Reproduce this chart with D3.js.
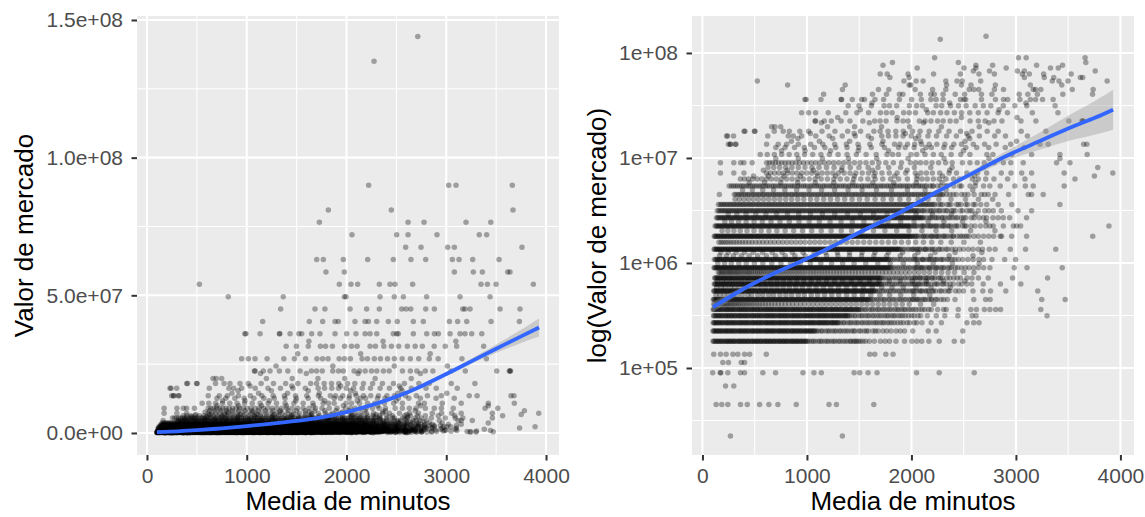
<!DOCTYPE html>
<html>
<head>
<meta charset="utf-8">
<script src="https://cdn.jsdelivr.net/npm/d3@7"></script>
<style>
  body { margin: 0; background: #ffffff; }
  svg { display: block; }
  text { font-family: "Liberation Sans", Arial, Helvetica, sans-serif; }
</style>
</head>
<body>
<svg id="chart" width="1145" height="517"></svg>
<script>
// Valor de mercado (EUR) de cada nivel; minutosNivel[i] guarda la media de minutos
// de los jugadores tasados en valoresNivel[i]
const valoresNivel = [
  22500, 45000, 67500, 90000, 112500, 135000, 180000, 225000, 270000, 315000,
  360000, 405000, 450000, 495000, 540000, 585000, 630000, 675000, 720000, 810000,
  900000, 990000, 1080000, 1170000, 1260000, 1350000, 1575000, 1800000, 2025000, 2250000,
  2475000, 2700000, 2925000, 3150000, 3600000, 4050000, 4500000, 4950000, 5400000, 5850000,
  6300000, 6750000, 7200000, 7650000, 8100000, 9000000, 9900000, 10800000, 11700000, 12600000,
  13500000, 14400000, 15300000, 16200000, 17100000, 18000000, 19800000, 21600000, 22500000, 24300000,
  27000000, 28800000, 31500000, 33300000, 36000000, 40500000, 45000000, 49500000, 54000000, 58500000,
  63000000, 67500000, 72000000, 76500000, 81000000, 90000000, 135000000, 144000000
];

const minutosNivel = [
  [268, 1339],
  [131, 185, 243, 364, 429, 547, 636, 722, 898, 1211, 1282, 1640],
  [221, 300],
  [98, 170, 176, 243, 364, 403, 578, 700, 962, 1067, 1138, 1451, 1505, 1585, 1671, 2049, 2266, 2601],
  [195, 249, 371, 403],
  [108, 173, 227, 291, 339, 403, 452, 611, 1601, 1649, 1755, 1824],
  [102, 109, 121, 130, 144, 150, 161, 174, 182, 192, 207, 216, 228, 235, 249, 256, 268, 276, 289, 300, 306, 318, 333, 341, 354, 361, 372, 383, 396, 401, 413, 428, 434, 443, 459, 467, 480, 488, 499, 510, 521, 528, 540, 553, 560, 571, 585, 593, 606, 614, 624, 635, 648, 653, 666, 679, 686, 697, 710, 719, 733, 740, 750, 762, 774, 781, 792, 805, 811, 823, 838, 845, 858, 866, 876, 888, 899, 907, 916, 931, 939, 949, 963, 971, 985, 992, 1004, 1021, 1045, 1062, 1081, 1108, 1127, 1143, 1170, 1191, 1208, 1234, 1255, 1273, 1301, 1318, 1344, 1366, 1387, 1414, 1422, 1446, 1460, 1475, 1493, 1511, 1536, 1562, 1598, 1645, 1703, 1748, 1791, 1852, 1934, 2004, 2052, 2099, 2167, 2266, 2410, 2490],
  [101, 108, 117, 129, 136, 149, 155, 167, 178, 186, 197, 211, 219, 231, 238, 250, 259, 273, 279, 290, 303, 311, 321, 336, 345, 357, 364, 376, 385, 399, 405, 416, 429, 437, 447, 462, 471, 483, 490, 502, 511, 525, 531, 542, 555, 563, 573, 588, 597, 609, 616, 628, 637, 651, 657, 668, 681, 689, 699, 714, 723, 735, 742, 754, 763, 777, 783, 794, 807, 815, 825, 840, 849, 861, 868, 880, 889, 903, 909, 920, 933, 941, 951, 966, 975, 987, 994, 1006, 1015, 1029, 1035, 1046, 1059, 1067, 1077, 1092, 1110, 1135, 1149, 1178, 1199, 1216, 1242, 1264, 1281, 1309, 1327, 1353, 1375, 1396, 1424, 1446, 1461, 1497, 1515, 1547, 1569, 1588, 1632, 1655, 1681, 1727, 1764, 1804, 1853, 1893, 1934, 2012, 2161, 2237, 2492],
  [103, 111, 119, 130, 138, 152, 158, 169, 182, 190, 200, 215, 224, 236, 243, 255, 264, 278, 284, 295, 308, 316, 326, 341, 350, 362, 369, 381, 390, 404, 410, 421, 434, 442, 452, 467, 476, 488, 495, 507, 516, 530, 536, 547, 560, 568, 578, 593, 602, 614, 621, 633, 642, 656, 662, 673, 686, 694, 704, 719, 728, 740, 747, 759, 768, 782, 788, 799, 812, 820, 830, 845, 854, 866, 873, 885, 894, 908, 914, 925, 938, 946, 956, 971, 980, 992, 999, 1011, 1020, 1034, 1040, 1051, 1064, 1072, 1082, 1097, 1106, 1118, 1125, 1137, 1146, 1160, 1166, 1177, 1190, 1198, 1208, 1223, 1232, 1244, 1251, 1263, 1272, 1286, 1292, 1303, 1321, 1346, 1360, 1389, 1410, 1427, 1453, 1475, 1492, 1520, 1538, 1564, 1586, 1607, 1635, 1656, 1674, 1700, 1722, 1739, 1768, 1790, 1812, 1837, 1867, 1896, 1921, 1958, 1984, 2026, 2052, 2101, 2189, 2287, 2531, 2596, 2647],
  [106, 113, 125, 134, 148, 154, 165, 178, 186, 196, 211, 220, 232, 239, 251, 260, 274, 280, 291, 304, 312, 322, 337, 346, 358, 365, 377, 386, 400, 406, 417, 430, 438, 448, 463, 472, 484, 491, 503, 512, 526, 532, 543, 556, 564, 574, 589, 598, 610, 617, 629, 638, 652, 658, 669, 682, 690, 700, 715, 724, 736, 743, 755, 764, 778, 784, 795, 808, 816, 826, 841, 850, 862, 869, 881, 890, 904, 910, 921, 934, 942, 952, 967, 976, 988, 995, 1007, 1016, 1030, 1036, 1047, 1060, 1068, 1078, 1093, 1102, 1114, 1121, 1133, 1142, 1156, 1162, 1173, 1186, 1194, 1204, 1219, 1228, 1240, 1247, 1259, 1268, 1282, 1288, 1299, 1312, 1320, 1330, 1345, 1354, 1366, 1373, 1385, 1394, 1408, 1426, 1451, 1465, 1494, 1515, 1532, 1558, 1580, 1597, 1625, 1643, 1669, 1691, 1712, 1740, 1761, 1779, 1805, 1827, 1844, 1873, 1895, 1917, 1942, 1972, 2001, 2026, 2063, 2089, 2152, 2238, 2319, 2444, 2581, 2619, 3298],
  [103, 110, 122, 131, 145, 151, 162, 175, 183, 193, 208, 217, 229, 236, 248, 257, 271, 277, 288, 301, 309, 319, 334, 343, 355, 362, 374, 383, 397, 403, 414, 427, 435, 445, 460, 469, 481, 488, 500, 509, 523, 529, 540, 553, 561, 571, 586, 595, 607, 614, 626, 635, 649, 655, 666, 679, 687, 697, 712, 721, 733, 740, 752, 761, 775, 781, 792, 805, 813, 823, 838, 847, 859, 866, 878, 887, 901, 907, 918, 931, 939, 949, 964, 973, 985, 992, 1004, 1013, 1027, 1033, 1044, 1057, 1065, 1075, 1090, 1099, 1111, 1118, 1130, 1139, 1153, 1159, 1170, 1183, 1191, 1201, 1216, 1225, 1237, 1244, 1256, 1265, 1279, 1285, 1296, 1309, 1317, 1327, 1342, 1351, 1363, 1370, 1382, 1391, 1405, 1411, 1422, 1435, 1443, 1453, 1468, 1477, 1489, 1496, 1508, 1526, 1551, 1565, 1594, 1615, 1632, 1658, 1680, 1697, 1725, 1743, 1769, 1791, 1812, 1840, 1861, 1879, 1905, 1927, 1944, 1973, 1995, 2017, 2042, 2072, 2101, 2126, 2163, 2189, 2251, 2308, 2333, 2448, 2569, 2622, 2698, 2751, 2806, 2853, 3238],
  [108, 121, 137, 149, 166, 183, 197, 214, 232, 247, 266, 284, 303, 321, 342, 361, 383, 404, 427, 449, 473, 497, 522, 548, 575, 603, 632, 662, 693, 725, 758, 792, 827, 863, 900, 938, 977, 1017, 1058, 1100, 1143, 1187, 1232, 1278, 1325, 1373, 1422, 1472, 1523, 1575, 1628, 1682, 1737, 1793, 1851, 1912, 1979, 2087, 2213],
  [104, 112, 119, 131, 138, 147, 160, 166, 178, 185, 197, 204, 213, 226, 232, 244, 253, 261, 274, 280, 291, 303, 310, 322, 329, 341, 350, 357, 370, 378, 389, 397, 408, 419, 425, 438, 446, 455, 468, 474, 487, 496, 504, 515, 523, 536, 542, 553, 565, 573, 584, 590, 603, 612, 620, 633, 641, 650, 662, 669, 681, 689, 700, 711, 717, 730, 738, 747, 760, 766, 779, 788, 796, 807, 815, 828, 834, 845, 857, 865, 876, 882, 895, 904, 912, 925, 933, 942, 954, 961, 973, 981, 992, 1003, 1009, 1022, 1030, 1039, 1052, 1058, 1071, 1080, 1088, 1099, 1107, 1120, 1126, 1137, 1149, 1157, 1168, 1174, 1187, 1196, 1204, 1217, 1225, 1234, 1246, 1253, 1265, 1273, 1284, 1295, 1301, 1314, 1322, 1331, 1344, 1350, 1363, 1372, 1380, 1391, 1399, 1412, 1418, 1429, 1441, 1449, 1460, 1466, 1479, 1488, 1496, 1509, 1517, 1526, 1538, 1545, 1557, 1565, 1576, 1587, 1593, 1606, 1624, 1641, 1667, 1683, 1709, 1731, 1746, 1775, 1791, 1818, 1834, 1862, 1885, 1903, 1929, 1948, 1977, 1996, 2024, 2047, 2073, 2101, 2134, 2162, 2195, 2231, 2283, 2344, 2417, 2597, 2710, 2753, 3247, 3471, 2012, 2058, 2119, 2187, 2246, 2309],
  [128, 167, 209, 248, 296, 335, 381, 433, 472, 529, 577, 634, 681, 742, 798, 853, 917, 975, 1041, 1102, 1168, 1237, 1304, 1379, 1452, 1530, 1611, 1698, 1792, 1897, 2021, 2176],
  [108, 114, 123, 135, 141, 150, 163, 170, 181, 189, 200, 208, 217, 229, 236, 247, 257, 264, 277, 284, 294, 306, 313, 325, 333, 344, 354, 361, 373, 382, 392, 400, 411, 423, 429, 441, 449, 458, 471, 478, 490, 499, 507, 518, 527, 539, 545, 556, 568, 576, 587, 594, 606, 615, 623, 636, 644, 653, 665, 673, 684, 692, 703, 714, 720, 733, 741, 750, 763, 770, 782, 791, 799, 810, 818, 831, 837, 848, 860, 868, 879, 886, 898, 907, 915, 928, 936, 945, 957, 965, 976, 984, 995, 1006, 1012, 1025, 1033, 1042, 1055, 1062, 1074, 1083, 1091, 1102, 1110, 1123, 1129, 1140, 1152, 1160, 1171, 1178, 1190, 1199, 1207, 1220, 1228, 1237, 1249, 1257, 1268, 1276, 1287, 1298, 1304, 1317, 1325, 1334, 1347, 1354, 1366, 1375, 1383, 1394, 1402, 1415, 1421, 1432, 1444, 1452, 1463, 1470, 1482, 1491, 1499, 1512, 1520, 1529, 1541, 1549, 1560, 1568, 1579, 1590, 1596, 1609, 1617, 1626, 1639, 1646, 1658, 1676, 1694, 1719, 1737, 1762, 1783, 1801, 1828, 1845, 1871, 1889, 1916, 1938, 1957, 1983, 2004, 2031, 2052, 2079, 2104, 2133, 2164, 2196, 2232, 2271, 2321, 2352, 2421, 2498, 2589, 2683, 2757, 2903, 3209, 2015, 2090, 2148, 2210, 2288, 2367, 2455],
  [136, 178, 219, 267, 309, 354, 402, 451, 497, 552, 604, 659, 713, 771, 832, 893, 956, 1021, 1088, 1157, 1228, 1302, 1378, 1457, 1539, 1625, 1716, 1814, 1921, 2043, 2188, 2372],
  [113, 120, 129, 140, 147, 156, 168, 176, 186, 195, 205, 214, 222, 234, 242, 252, 262, 270, 282, 289, 299, 311, 319, 330, 339, 349, 359, 367, 378, 388, 397, 405, 416, 428, 435, 446, 455, 463, 476, 484, 495, 504, 512, 523, 532, 544, 551, 561, 573, 581, 592, 600, 611, 621, 628, 641, 649, 658, 670, 678, 689, 697, 708, 719, 726, 738, 746, 755, 768, 775, 787, 796, 804, 815, 823, 836, 843, 853, 865, 873, 884, 892, 903, 912, 920, 933, 941, 950, 962, 970, 981, 989, 1000, 1011, 1018, 1030, 1038, 1047, 1060, 1067, 1079, 1088, 1096, 1107, 1115, 1128, 1135, 1145, 1157, 1165, 1176, 1184, 1195, 1204, 1212, 1225, 1233, 1242, 1254, 1262, 1273, 1281, 1292, 1303, 1310, 1322, 1330, 1339, 1352, 1359, 1371, 1380, 1388, 1399, 1407, 1420, 1427, 1437, 1449, 1457, 1468, 1476, 1487, 1496, 1504, 1517, 1525, 1534, 1546, 1554, 1565, 1573, 1584, 1595, 1602, 1614, 1622, 1631, 1644, 1651, 1663, 1672, 1680, 1691, 1699, 1712, 1729, 1748, 1773, 1791, 1816, 1837, 1856, 1882, 1899, 1926, 1944, 1970, 1993, 2012, 2038, 2059, 2086, 2108, 2134, 2160, 2189, 2221, 2254, 2291, 2336, 2400, 2482, 2577, 2687, 2852, 3047, 2025, 2071, 2146, 2238, 2307, 2371, 2450, 2530],
  [141, 187, 232, 281, 329, 378, 431, 484, 538, 596, 653, 713, 774, 838, 903, 971, 1041, 1113, 1187, 1264, 1343, 1425, 1510, 1598, 1690, 1788, 1893, 2009, 2142, 2305, 2511],
  [117, 125, 133, 144, 152, 160, 172, 180, 190, 199, 209, 218, 226, 238, 246, 256, 266, 274, 286, 293, 303, 315, 323, 334, 343, 353, 363, 371, 382, 392, 401, 409, 420, 432, 439, 450, 459, 467, 480, 488, 499, 508, 516, 527, 536, 548, 555, 565, 577, 585, 596, 604, 615, 625, 632, 645, 653, 662, 674, 682, 693, 701, 712, 723, 730, 742, 750, 759, 772, 779, 791, 800, 808, 819, 827, 840, 847, 857, 869, 877, 888, 896, 907, 916, 924, 937, 945, 954, 966, 974, 985, 993, 1004, 1015, 1022, 1034, 1042, 1051, 1064, 1071, 1083, 1092, 1100, 1111, 1119, 1132, 1139, 1149, 1161, 1169, 1180, 1188, 1199, 1208, 1216, 1229, 1237, 1246, 1258, 1266, 1277, 1285, 1296, 1307, 1314, 1326, 1334, 1343, 1356, 1363, 1375, 1384, 1392, 1403, 1411, 1424, 1431, 1441, 1453, 1461, 1472, 1480, 1491, 1500, 1508, 1521, 1529, 1538, 1550, 1558, 1569, 1577, 1588, 1599, 1606, 1618, 1626, 1635, 1648, 1655, 1667, 1676, 1684, 1695, 1703, 1716, 1733, 1752, 1777, 1795, 1820, 1841, 1860, 1886, 1903, 1930, 1948, 1974, 1997, 2016, 2042, 2063, 2090, 2112, 2138, 2164, 2193, 2225, 2258, 2295, 2340, 2405, 2438, 2532, 2641, 2735, 2968, 3303, 2033, 2081, 2150, 2205, 2276, 2368, 2470, 2580],
  [152, 166, 181, 197, 213, 229, 247, 262, 276, 294, 311, 327, 343, 361, 379, 397, 416, 434, 449, 469, 488, 507, 527, 546, 566, 586, 607, 629, 651, 672, 694, 716, 739, 762, 786, 809, 833, 857, 882, 907, 931, 957, 983, 1009, 1036, 1062, 1088, 1116, 1143, 1171, 1198, 1227, 1256, 1285, 1313, 1343, 1372, 1403, 1433, 1464, 1494, 1525, 1556, 1589, 1621, 1654, 1687, 1722, 1756, 1792, 1827, 1865, 1902, 1943, 1983, 2027, 2071, 2122, 2174, 2231, 2289, 2351, 2412, 2504, 2598],
  [111, 118, 128, 137, 146, 153, 165, 174, 183, 191, 203, 211, 221, 230, 240, 248, 259, 267, 278, 287, 296, 305, 316, 324, 335, 343, 353, 362, 373, 381, 392, 400, 411, 420, 429, 438, 449, 457, 468, 476, 486, 495, 506, 514, 525, 533, 544, 552, 563, 572, 582, 590, 601, 609, 620, 629, 639, 648, 659, 667, 678, 686, 696, 705, 716, 724, 735, 743, 754, 762, 773, 782, 792, 800, 811, 819, 830, 839, 849, 858, 869, 877, 888, 896, 906, 915, 926, 934, 945, 953, 964, 972, 983, 992, 1002, 1010, 1021, 1029, 1040, 1049, 1059, 1068, 1079, 1087, 1098, 1106, 1116, 1125, 1136, 1144, 1155, 1163, 1174, 1182, 1193, 1202, 1212, 1220, 1231, 1239, 1250, 1259, 1269, 1278, 1289, 1297, 1308, 1316, 1326, 1335, 1346, 1354, 1365, 1373, 1384, 1392, 1403, 1412, 1422, 1430, 1441, 1449, 1460, 1469, 1479, 1488, 1499, 1507, 1518, 1526, 1536, 1545, 1556, 1564, 1575, 1583, 1594, 1602, 1613, 1622, 1632, 1640, 1651, 1659, 1670, 1679, 1689, 1698, 1709, 1717, 1728, 1736, 1746, 1755, 1766, 1774, 1785, 1793, 1804, 1822, 1841, 1866, 1884, 1909, 1930, 1949, 1975, 1992, 2019, 2037, 2063, 2086, 2105, 2131, 2152, 2179, 2201, 2227, 2253, 2282, 2314, 2347, 2384, 2443, 2515, 2596, 2691, 2751, 2984, 3106, 3443, 2046, 2096, 2170, 2240, 2298, 2366, 2420, 2480, 2552, 2640],
  [147, 211, 276, 348, 419, 497, 578, 663, 751, 842, 936, 1033, 1133, 1236, 1342, 1451, 1563, 1678, 1797, 1922, 2057, 2208, 2392, 2648],
  [114, 126, 133, 145, 153, 166, 172, 184, 196, 203, 215, 224, 236, 243, 257, 264, 276, 283, 295, 304, 316, 325, 335, 344, 356, 363, 377, 384, 396, 403, 415, 424, 438, 443, 455, 464, 476, 485, 495, 504, 516, 523, 535, 546, 556, 563, 575, 584, 598, 603, 615, 624, 636, 643, 655, 666, 676, 683, 695, 704, 718, 723, 735, 744, 756, 765, 775, 784, 796, 803, 817, 824, 836, 843, 855, 864, 878, 883, 895, 904, 916, 925, 935, 944, 956, 963, 977, 984, 996, 1003, 1015, 1026, 1036, 1043, 1055, 1064, 1078, 1083, 1095, 1104, 1116, 1125, 1135, 1144, 1156, 1163, 1177, 1184, 1196, 1203, 1215, 1226, 1236, 1243, 1255, 1264, 1278, 1283, 1295, 1304, 1316, 1325, 1335, 1344, 1356, 1363, 1377, 1384, 1396, 1403, 1415, 1426, 1436, 1443, 1455, 1464, 1478, 1483, 1495, 1504, 1516, 1525, 1535, 1544, 1556, 1563, 1577, 1584, 1596, 1603, 1615, 1626, 1636, 1643, 1655, 1664, 1678, 1683, 1695, 1704, 1716, 1725, 1735, 1744, 1756, 1763, 1777, 1784, 1796, 1820, 1838, 1864, 1885, 1903, 1932, 1950, 1979, 1997, 2023, 2048, 2066, 2094, 2115, 2142, 2163, 2190, 2216, 2246, 2276, 2309, 2343, 2389, 2448, 2540, 2646, 2771, 2892, 2997, 2035, 2108, 2176, 2232, 2291, 2360, 2415, 2490, 2590, 2690],
  [163, 228, 296, 371, 447, 528, 612, 700, 791, 885, 983, 1084, 1188, 1296, 1407, 1522, 1641, 1764, 1893, 2031, 2183, 2361, 2589],
  [176, 247, 322, 403, 487, 575, 667, 762, 861, 963, 1069, 1178, 1291, 1407, 1527, 1651, 1780, 1916, 2062, 2226, 2418, 2674],
  [112, 119, 130, 138, 147, 157, 165, 176, 183, 194, 204, 212, 223, 230, 241, 251, 259, 270, 277, 288, 298, 306, 317, 324, 335, 345, 353, 364, 371, 382, 392, 400, 411, 418, 429, 439, 447, 458, 465, 476, 486, 494, 505, 512, 523, 533, 541, 552, 559, 570, 580, 588, 599, 606, 617, 627, 635, 646, 653, 664, 674, 682, 693, 700, 711, 721, 729, 740, 747, 758, 768, 776, 787, 794, 805, 815, 823, 834, 841, 852, 862, 870, 881, 888, 899, 909, 917, 928, 935, 946, 956, 964, 975, 982, 993, 1003, 1011, 1022, 1029, 1040, 1050, 1058, 1069, 1076, 1087, 1097, 1105, 1116, 1123, 1134, 1144, 1152, 1163, 1170, 1181, 1191, 1199, 1210, 1217, 1228, 1238, 1246, 1257, 1264, 1275, 1285, 1293, 1304, 1311, 1322, 1332, 1340, 1351, 1358, 1369, 1379, 1387, 1398, 1405, 1416, 1426, 1434, 1445, 1452, 1463, 1473, 1481, 1492, 1499, 1510, 1520, 1528, 1539, 1546, 1557, 1567, 1575, 1586, 1593, 1604, 1614, 1622, 1633, 1640, 1651, 1661, 1669, 1680, 1687, 1698, 1708, 1716, 1727, 1734, 1745, 1755, 1763, 1774, 1781, 1792, 1802, 1810, 1821, 1828, 1839, 1849, 1857, 1868, 1875, 1886, 1896, 1917, 1934, 1961, 1980, 2003, 2028, 2047, 2076, 2093, 2120, 2141, 2168, 2189, 2224, 2259, 2297, 2349, 2420, 2498, 2589, 2680, 2801, 2946, 3092, 3381, 2012, 2061, 2134, 2205, 2271, 2330, 2388, 2460, 2545, 2640, 2745],
  [158, 179, 201, 224, 248, 273, 299, 326, 354, 383, 413, 444, 476, 509, 543, 578, 614, 651, 689, 728, 768, 809, 851, 894, 938, 983, 1029, 1076, 1124, 1173, 1223, 1274, 1326, 1379, 1433, 1488, 1544, 1601, 1659, 1718, 1779, 1841, 1905, 1971, 2041, 2115, 2194, 2281, 2381, 2502, 2660],
  [113, 121, 129, 141, 148, 159, 167, 178, 186, 197, 206, 214, 226, 233, 244, 253, 263, 271, 283, 290, 301, 309, 320, 330, 337, 349, 356, 367, 376, 386, 394, 406, 413, 424, 432, 443, 453, 460, 472, 479, 490, 499, 509, 517, 529, 536, 547, 555, 566, 576, 583, 595, 602, 613, 622, 632, 640, 652, 659, 670, 678, 689, 699, 706, 718, 725, 736, 745, 755, 763, 775, 782, 793, 801, 812, 822, 829, 841, 848, 859, 868, 878, 886, 898, 905, 916, 924, 935, 945, 952, 964, 971, 982, 991, 1001, 1009, 1021, 1028, 1039, 1047, 1058, 1068, 1075, 1087, 1094, 1105, 1114, 1124, 1132, 1144, 1151, 1162, 1170, 1181, 1191, 1198, 1210, 1217, 1228, 1237, 1247, 1255, 1267, 1274, 1285, 1293, 1304, 1314, 1321, 1333, 1340, 1351, 1360, 1370, 1378, 1390, 1397, 1408, 1416, 1427, 1437, 1444, 1456, 1463, 1474, 1483, 1493, 1501, 1513, 1520, 1531, 1539, 1550, 1560, 1567, 1579, 1586, 1597, 1606, 1616, 1624, 1636, 1643, 1654, 1662, 1673, 1683, 1690, 1702, 1709, 1720, 1729, 1739, 1747, 1759, 1766, 1777, 1785, 1796, 1806, 1813, 1825, 1832, 1843, 1852, 1862, 1870, 1882, 1889, 1900, 1908, 1919, 1929, 1936, 1948, 1955, 1966, 1975, 1985, 1993, 2005, 2012, 2031, 2052, 2068, 2094, 2113, 2139, 2157, 2181, 2204, 2226, 2254, 2269, 2298, 2324, 2347, 2373, 2402, 2438, 2465, 2509, 2553, 2598, 2690, 2787, 2863, 2959, 3102, 3735, 2041, 2120, 2193, 2240, 2311, 2395, 2485, 2530, 2640, 2740, 2850],
  [188, 243, 301, 362, 426, 493, 563, 636, 712, 791, 873, 958, 1046, 1137, 1231, 1328, 1428, 1531, 1637, 1746, 1859, 1977, 2101, 2235, 2386, 2566, 2799],
  [121, 133, 140, 152, 163, 171, 184, 192, 203, 215, 223, 235, 243, 254, 266, 274, 286, 294, 305, 317, 325, 337, 345, 356, 368, 376, 388, 396, 407, 419, 427, 439, 447, 458, 470, 478, 490, 498, 509, 521, 529, 541, 549, 560, 572, 580, 592, 600, 611, 623, 631, 643, 651, 662, 674, 682, 694, 702, 713, 725, 733, 745, 753, 764, 776, 784, 796, 804, 815, 827, 835, 847, 855, 866, 878, 886, 898, 906, 917, 929, 937, 949, 957, 968, 980, 988, 1000, 1008, 1019, 1031, 1039, 1051, 1059, 1070, 1082, 1090, 1102, 1110, 1121, 1133, 1141, 1153, 1161, 1172, 1184, 1192, 1204, 1212, 1223, 1235, 1243, 1255, 1263, 1274, 1286, 1294, 1306, 1314, 1325, 1337, 1345, 1357, 1365, 1376, 1388, 1396, 1408, 1416, 1427, 1439, 1447, 1459, 1467, 1478, 1490, 1498, 1510, 1518, 1529, 1541, 1549, 1561, 1569, 1580, 1592, 1600, 1612, 1620, 1631, 1643, 1651, 1663, 1671, 1682, 1694, 1702, 1714, 1722, 1733, 1745, 1753, 1765, 1773, 1784, 1796, 1804, 1816, 1824, 1835, 1847, 1855, 1867, 1875, 1886, 1898, 1906, 1918, 1926, 1937, 1949, 1957, 1969, 1977, 1988, 2000, 2018, 2043, 2059, 2086, 2103, 2128, 2152, 2170, 2197, 2216, 2244, 2266, 2293, 2320, 2349, 2380, 2413, 2447, 2490, 2522, 2608, 2712, 2783, 2975, 3007, 3045, 3890, 2031, 2111, 2183, 2233, 2305, 2362, 2430, 2510, 2570, 2660, 2750, 2880],
  [214, 278, 346, 418, 494, 573, 656, 742, 831, 924, 1020, 1119, 1221, 1326, 1434, 1545, 1659, 1776, 1897, 2024, 2160, 2311, 2489, 2714],
  [134, 146, 155, 169, 180, 191, 203, 212, 226, 237, 248, 260, 269, 283, 294, 305, 317, 326, 340, 351, 362, 374, 383, 397, 408, 419, 431, 440, 454, 465, 476, 488, 497, 511, 522, 533, 545, 554, 568, 579, 590, 602, 611, 625, 636, 647, 659, 668, 682, 693, 704, 716, 725, 739, 750, 761, 773, 782, 796, 807, 818, 830, 839, 853, 864, 875, 887, 896, 910, 921, 932, 944, 953, 967, 978, 989, 1001, 1010, 1024, 1035, 1046, 1058, 1067, 1081, 1092, 1103, 1115, 1124, 1138, 1149, 1160, 1172, 1181, 1195, 1206, 1217, 1229, 1238, 1252, 1263, 1274, 1286, 1295, 1309, 1320, 1331, 1343, 1352, 1366, 1377, 1388, 1400, 1409, 1423, 1434, 1445, 1457, 1466, 1480, 1491, 1502, 1514, 1523, 1537, 1548, 1559, 1571, 1580, 1594, 1605, 1616, 1628, 1637, 1651, 1662, 1673, 1685, 1694, 1708, 1719, 1730, 1742, 1751, 1765, 1776, 1787, 1799, 1808, 1822, 1833, 1844, 1856, 1865, 1879, 1890, 1901, 1913, 1922, 1936, 1947, 1958, 1970, 1979, 1993, 2004, 2015, 2027, 2036, 2050, 2061, 2072, 2084, 2093, 2117, 2141, 2170, 2198, 2226, 2258, 2286, 2322, 2351, 2394, 2422, 2476, 2520, 2573, 2648, 2719, 2830, 2879, 3102, 2105, 2185, 2240, 2300, 2370, 2440, 2500, 2600, 2690, 2780, 2940],
  [246, 329, 417, 510, 607, 708, 813, 921, 1033, 1148, 1266, 1387, 1511, 1638, 1768, 1903, 2045, 2201, 2383, 2611],
  [142, 157, 168, 184, 196, 209, 223, 235, 251, 262, 276, 290, 302, 318, 329, 343, 357, 369, 385, 396, 410, 424, 436, 452, 463, 477, 491, 503, 519, 530, 544, 558, 570, 586, 597, 611, 625, 637, 653, 664, 678, 692, 704, 720, 731, 745, 759, 771, 787, 798, 812, 826, 838, 854, 865, 879, 893, 905, 921, 932, 946, 960, 972, 988, 999, 1013, 1027, 1039, 1055, 1066, 1080, 1094, 1106, 1122, 1133, 1147, 1161, 1173, 1189, 1200, 1214, 1228, 1240, 1256, 1267, 1281, 1295, 1307, 1323, 1334, 1348, 1362, 1374, 1390, 1401, 1415, 1429, 1441, 1457, 1468, 1482, 1496, 1508, 1524, 1535, 1549, 1563, 1575, 1591, 1602, 1616, 1630, 1642, 1658, 1669, 1683, 1697, 1709, 1725, 1736, 1750, 1764, 1776, 1792, 1803, 1817, 1831, 1843, 1859, 1870, 1884, 1898, 1910, 1926, 1937, 1951, 1965, 1977, 1993, 2004, 2018, 2032, 2044, 2060, 2071, 2096, 2124, 2151, 2177, 2211, 2236, 2274, 2304, 2344, 2381, 2420, 2471, 2532, 2580, 2702, 2783, 3150, 2110, 2190, 2260, 2330, 2400, 2490, 2560, 2640, 2740, 2860, 3020],
  [153, 170, 184, 201, 214, 231, 246, 262, 276, 293, 306, 323, 338, 354, 368, 385, 398, 415, 430, 446, 460, 477, 490, 507, 522, 538, 552, 569, 582, 599, 614, 630, 644, 661, 674, 691, 706, 722, 736, 753, 766, 783, 798, 814, 828, 845, 858, 875, 890, 906, 920, 937, 950, 967, 982, 998, 1012, 1029, 1042, 1059, 1074, 1090, 1104, 1121, 1134, 1151, 1166, 1182, 1196, 1213, 1226, 1243, 1258, 1274, 1288, 1305, 1318, 1335, 1350, 1366, 1380, 1397, 1410, 1427, 1442, 1458, 1472, 1489, 1502, 1519, 1534, 1550, 1564, 1581, 1594, 1611, 1626, 1642, 1656, 1673, 1686, 1703, 1718, 1734, 1748, 1765, 1778, 1795, 1810, 1826, 1840, 1857, 1870, 1887, 1902, 1918, 1932, 1949, 1962, 1979, 1994, 2010, 2024, 2041, 2054, 2071, 2086, 2102, 2116, 2133, 2146, 2163, 2178, 2194, 2224, 2259, 2297, 2340, 2379, 2431, 2475, 2537, 2591, 2663, 3421, 2210, 2280, 2360, 2450, 2520, 2610, 2720, 2830, 2960],
  [312, 353, 397, 441, 488, 535, 585, 635, 688, 741, 797, 853, 912, 971, 1033, 1095, 1160, 1225, 1293, 1361, 1432, 1503, 1577, 1652, 1729, 1808, 1890, 1975, 2064, 2159, 2262, 2378, 2517, 2641, 2777],
  [162, 305, 321, 343, 358, 375, 396, 412, 431, 447, 468, 485, 503, 520, 539, 556, 576, 591, 612, 628, 646, 667, 681, 702, 719, 735, 756, 771, 792, 808, 826, 847, 861, 883, 898, 915, 936, 952, 971, 987, 1008, 1024, 1043, 1061, 1077, 1099, 1113, 1132, 1152, 1167, 1188, 1204, 1221, 1243, 1257, 1279, 1293, 1312, 1332, 1347, 1368, 1384, 1401, 1423, 1437, 1459, 1473, 1492, 1512, 1527, 1548, 1564, 1581, 1603, 1617, 1639, 1653, 1672, 1692, 1707, 1728, 1744, 1761, 1783, 1797, 1819, 1833, 1852, 1872, 1887, 1908, 1924, 1941, 1963, 1977, 1999, 2013, 2032, 2052, 2067, 2088, 2104, 2121, 2143, 2157, 2179, 2193, 2212, 2232, 2251, 2273, 2301, 2337, 2369, 2429, 2480, 2542, 2668, 2735, 3118, 3150, 3261, 2290, 2400, 2510, 2600, 2700, 2800, 2930],
  [384, 478, 577, 681, 789, 902, 1019, 1140, 1265, 1394, 1527, 1665, 1809, 1962, 2131, 2331, 2587],
  [256, 276, 297, 317, 336, 358, 378, 395, 419, 438, 457, 480, 499, 518, 542, 559, 579, 602, 620, 639, 664, 681, 701, 724, 743, 761, 786, 802, 824, 846, 865, 883, 909, 924, 946, 968, 987, 1005, 1031, 1046, 1068, 1090, 1109, 1127, 1153, 1168, 1190, 1212, 1231, 1249, 1275, 1290, 1312, 1334, 1353, 1371, 1397, 1412, 1434, 1456, 1475, 1493, 1519, 1534, 1556, 1578, 1597, 1615, 1641, 1656, 1678, 1700, 1719, 1737, 1763, 1778, 1800, 1822, 1841, 1859, 1885, 1900, 1922, 1944, 1963, 1981, 2007, 2022, 2044, 2066, 2085, 2103, 2129, 2145, 2178, 2210, 2251, 2281, 2330, 2406, 2461, 2561, 2750, 3166, 3462, 2200, 2340, 2480, 2610, 2690, 2850, 2990, 3090],
  [447, 594, 749, 911, 1080, 1256, 1439, 1630, 1831, 2047, 2293, 2614],
  [363, 401, 441, 482, 524, 568, 613, 659, 707, 756, 806, 858, 911, 965, 1021, 1078, 1136, 1196, 1257, 1319, 1383, 1448, 1515, 1583, 1653, 1725, 1800, 1878, 1961, 2051, 2151, 2266, 2404, 2583, 2711, 3086, 3565, 2100, 2210, 2330, 2460, 2640, 2790, 2920],
  [489, 631, 780, 937, 1102, 1274, 1454, 1642, 1840, 2054, 2298, 2604, 3751],
  [172, 300, 397, 612, 650, 690, 731, 773, 816, 860, 905, 951, 998, 1046, 1095, 1145, 1196, 1248, 1301, 1356, 1412, 1469, 1528, 1589, 1652, 1718, 1788, 1863, 1945, 2037, 2143, 2271, 2431, 2632, 2953, 3055, 3462, 3927, 2090, 2200, 2360, 2530, 2720, 2860, 3150],
  [583, 812, 1061, 1332, 1628, 1959, 2366],
  [628, 682, 738, 796, 856, 918, 982, 1048, 1116, 1187, 1260, 1336, 1415, 1498, 1586, 1680, 1782, 1896, 2027, 2185, 2389, 2688, 3783],
  [172, 300, 365, 397, 476, 614, 641, 669, 698, 728, 759, 791, 824, 858, 893, 929, 966, 1004, 1043, 1083, 1124, 1167, 1211, 1256, 1303, 1352, 1402, 1454, 1508, 1565, 1625, 1688, 1755, 1827, 1905, 1991, 2087, 2197, 2327, 2488, 2697, 2951, 3389, 3517, 2040, 2140, 2260, 2390, 2560, 2630, 2790, 2880, 3070],
  [702, 917, 1148, 1397, 1668, 1968, 2312, 2742, 3421],
  [553, 620, 688, 758, 830, 903, 978, 1055, 1134, 1215, 1298, 1384, 1473, 1566, 1663, 1766, 1876, 1996, 2130, 2285, 2473, 2722, 3421, 3682, 1820, 2050, 2210, 2380, 2560, 2780, 2960, 3150],
  [757, 983, 1226, 1491, 1781, 2108, 2498],
  [702, 790, 881, 975, 1072, 1172, 1276, 1384, 1497, 1616, 1742, 1877, 2025, 2191, 2385, 2625, 2898, 1940, 2140, 2310, 2520, 2740, 3080],
  [248, 265, 270, 314, 321, 614, 725, 806, 918, 1036, 1152, 1265, 1377, 1489, 1602, 1718, 1838, 1963, 2097, 2243, 2406, 2592, 2811, 3230, 3309, 3648, 3679, 1890, 2030, 2170, 2320, 2480, 2700, 2950],
  [851, 1119, 1409, 1728, 2088, 2513, 3006],
  [914, 1247, 1617, 2041, 2558],
  [231, 241, 298, 625, 821, 869, 949, 1085, 1213, 1338, 1462, 1587, 1716, 1852, 1998, 2158, 2337, 2544, 2797, 3110, 1780, 1920, 2070, 2240, 2430, 2650, 2900],
  [1033, 1452, 1941, 2529],
  [398, 407, 498, 502, 687, 773, 832, 932, 1016, 1144, 1268, 1390, 1513, 1641, 1776, 1922, 2083, 2262, 2470, 2725, 3287, 1700, 1850, 2010, 2170, 2360, 2580, 2830, 3050],
  [662, 694, 749, 1197, 1456, 1714, 1983, 2287, 2649],
  [1138, 1597, 2116, 2741],
  [1077, 1083, 1166, 1233, 1327, 1412, 1535, 1648, 1757, 1862, 1968, 2076, 2187, 2304, 2428, 2561, 2705, 2866, 3048, 3191, 3506, 3632, 3639, 3644, 1700, 1920, 2130, 2250, 2370, 2640, 2790],
  [1294, 1863, 2479, 3011],
  [949, 1016, 1083, 1204, 1372, 1478, 1590, 1703, 1815, 1926, 2039, 2156, 2279, 2411, 2558, 2724, 2919, 3157, 3402, 1760, 1980, 2210, 2340, 2480, 2640, 2830],
  [1511, 2142, 2839],
  [1395, 1498, 1617, 1738, 1859, 1981, 2106, 2236, 2374, 2523, 2688, 2879, 3104, 3375, 1790, 2050, 2290, 2450, 2610, 2760, 2990],
  [1623, 2366, 3096],
  [981, 992, 1134, 1327, 1332, 1434, 1523, 1551, 1651, 1734, 1885, 2002, 2095, 2186, 2236, 2303, 2469, 2503, 2519, 2670, 2804, 2881, 2921, 3038, 3138, 3188, 3255, 3356],
  [1160, 1627, 1761, 1885, 1918, 2085, 2186, 2219, 2303, 2419, 2509, 2670, 2770, 3031, 3114, 3205, 3449, 3733],
  [1340, 1684, 1784, 2035, 2202, 2329, 2553, 2597, 2644, 2794, 2881, 3165, 3188, 3238, 3539, 3739],
  [815, 1366, 1978, 1995, 2336, 2479, 2570, 2803, 3138, 3439],
  [525, 1928, 2045, 2112, 2329, 2436, 2486, 2663, 3348, 3412, 3499, 3873],
  [1794, 1978, 3081, 3271, 3362, 3616, 3639],
  [1701, 1768, 1968, 2212, 2469, 2646, 2794, 3061, 3128, 3265, 3529],
  [2593, 2747, 3014, 3081, 3759],
  [2055, 2503, 2617, 2907, 3331, 3405],
  [1728, 2617, 2777, 3198, 3446],
  [1818, 2449, 3669],
  [2222, 3024, 3098, 3662],
  [2276],
  [2714]
];

// Curva suavizada (gam) y su intervalo de confianza
const minutosAjuste = [100, 300, 500, 750, 1000, 1250, 1500, 1750, 2000, 2250, 2500, 2750, 3000, 3250, 3500, 3750, 3930];
const ajusteLineal    = [300000, 600000, 1000000, 1700000, 2500000, 3400000, 4400000, 5700000, 7600000, 10100000, 13200000, 17000000, 21400000, 26000000, 30600000, 35100000, 38300000];
const ajusteLinealInf = [-300000, 200000, 700000, 1400000, 2200000, 3100000, 4100000, 5400000, 7300000, 9800000, 12850000, 16550000, 20750000, 25050000, 29100000, 32700000, 35000000];
const ajusteLinealSup = [900000, 1000000, 1300000, 2000000, 2800000, 3700000, 4700000, 6000000, 7900000, 10400000, 13550000, 17450000, 22050000, 26950000, 32100000, 37500000, 41600000];
const ajusteLog    = [380000, 501000, 646000, 851000, 1100000, 1450000, 1950000, 2570000, 3470000, 4790000, 6460000, 8710000, 11500000, 14800000, 19100000, 24000000, 28800000];
const ajusteLogInf = [338700, 467400, 617000, 812800, 1050600, 1384900, 1862500, 2454600, 3314200, 4575000, 6100100, 8035000, 10132000, 12171000, 14492000, 16609000, 18593000];
const ajusteLogSup = [426400, 537100, 676400, 891000, 1151700, 1518200, 2041700, 2690800, 3633100, 5015100, 6841100, 9441600, 13052500, 17996800, 25173800, 34680000, 44611200];

// Marcas de los ejes
const ticksX = [0, 1000, 2000, 3000, 4000];
const ticksXMenores = [500, 1500, 2500, 3500];
const ticksYLineal = [0, 5e7, 1e8, 1.5e8];
const etiquetasYLineal = ["0.0e+00", "5.0e+07", "1.0e+08", "1.5e+08"];
const ticksYLinealMenores = [2.5e7, 7.5e7, 1.25e8];
const ticksYLog = [1e5, 1e6, 1e7, 1e8];
const etiquetasYLog = ["1e+05", "1e+06", "1e+07", "1e+08"];
const ticksYLogMenores = [Math.pow(10, 4.5), Math.pow(10, 5.5), Math.pow(10, 6.5), Math.pow(10, 7.5)];

const puntos = valoresNivel.flatMap((v, i) => minutosNivel[i].map(m => ({ minutos: m, valor: v })));
const ajuste = minutosAjuste.map((m, i) => ({
  minutos: m,
  lin: ajusteLineal[i], linInf: ajusteLinealInf[i], linSup: ajusteLinealSup[i],
  log: ajusteLog[i], logInf: ajusteLogInf[i], logSup: ajusteLogSup[i]
}));

const svg = d3.select("#chart");
const TICK_FONT = 21, TITLE_FONT = 26;

function dibujarPanel(cfg) {
  const { id, left, right, top, bottom, y, ticksY, etiquetasY, ticksYMenores, campo, titulo, tituloX } = cfg;
  const x = d3.scaleLinear().domain([-100, 4130]).range([left, right]);
  const g = svg.append("g");

  g.append("rect")
    .attr("x", left).attr("y", top)
    .attr("width", right - left).attr("height", bottom - top)
    .attr("fill", "#EBEBEB");

  // rejilla menor
  g.selectAll(null).data(ticksXMenores).join("line")
    .attr("x1", d => x(d)).attr("x2", d => x(d))
    .attr("y1", top).attr("y2", bottom)
    .attr("stroke", "#FFFFFF").attr("stroke-width", 1.05);
  g.selectAll(null).data(ticksYMenores).join("line")
    .attr("x1", left).attr("x2", right)
    .attr("y1", d => y(d)).attr("y2", d => y(d))
    .attr("stroke", "#FFFFFF").attr("stroke-width", 1.05);
  // rejilla mayor
  g.selectAll(null).data(ticksX).join("line")
    .attr("x1", d => x(d)).attr("x2", d => x(d))
    .attr("y1", top).attr("y2", bottom)
    .attr("stroke", "#FFFFFF").attr("stroke-width", 2.1);
  g.selectAll(null).data(ticksY).join("line")
    .attr("x1", left).attr("x2", right)
    .attr("y1", d => y(d)).attr("y2", d => y(d))
    .attr("stroke", "#FFFFFF").attr("stroke-width", 2.1);

  g.append("clipPath").attr("id", id)
    .append("rect")
    .attr("x", left).attr("y", top)
    .attr("width", right - left).attr("height", bottom - top);

  const capa = g.append("g").attr("clip-path", `url(#${id})`);

  capa.selectAll("circle").data(puntos).join("circle")
    .attr("cx", d => x(d.minutos))
    .attr("cy", d => y(d.valor))
    .attr("r", 2.75)
    .attr("fill", "#000000")
    .attr("fill-opacity", 0.33);

  const banda = d3.area()
    .x(d => x(d.minutos))
    .y0(d => y(d[campo + "Inf"]))
    .y1(d => y(d[campo + "Sup"]))
    .curve(d3.curveNatural);
  capa.append("path").datum(ajuste)
    .attr("d", banda)
    .attr("fill", "#999999").attr("fill-opacity", 0.4);

  const linea = d3.line()
    .x(d => x(d.minutos))
    .y(d => y(d[campo]))
    .curve(d3.curveNatural);
  capa.append("path").datum(ajuste)
    .attr("d", linea)
    .attr("fill", "none")
    .attr("stroke", "#3366FF")
    .attr("stroke-width", 3.8);

  // ejes
  const ejeX = g.append("g")
    .attr("transform", `translate(0,${bottom})`)
    .call(d3.axisBottom(x).tickValues(ticksX).tickSize(5.5).tickPadding(8).tickFormat(d3.format("d")));
  const ejeY = g.append("g")
    .attr("transform", `translate(${left},0)`)
    .call(d3.axisLeft(y).tickValues(ticksY).tickSize(5.5).tickPadding(8.5).tickFormat((d, i) => etiquetasY[i]));

  [ejeX, ejeY].forEach(eje => {
    eje.select(".domain").remove();
    eje.selectAll(".tick line").attr("stroke", "#333333").attr("stroke-width", 2);
    eje.selectAll(".tick text")
      .attr("fill", "#4D4D4D")
      .style("font-size", TICK_FONT + "px")
      .style("font-family", '"Liberation Sans", Arial, Helvetica, sans-serif');
  });

  g.append("text")
    .attr("x", (left + right) / 2).attr("y", 510)
    .attr("text-anchor", "middle")
    .attr("fill", "#000000")
    .style("font-size", TITLE_FONT + "px")
    .text(tituloX);

  g.append("text")
    .attr("transform", `translate(${cfg.tituloYx},${(top + bottom) / 2}) rotate(-90)`)
    .attr("text-anchor", "middle")
    .attr("fill", "#000000")
    .style("font-size", TITLE_FONT + "px")
    .text(titulo);
}

const TOP = 16, BOTTOM = 455;

dibujarPanel({
  id: "clip-lineal",
  left: 137, right: 559, top: TOP, bottom: BOTTOM,
  y: d3.scaleLinear().domain([-8.0e6, 1.5145e8]).range([BOTTOM, TOP]),
  ticksY: ticksYLineal, etiquetasY: etiquetasYLineal, ticksYMenores: ticksYLinealMenores,
  campo: "lin",
  titulo: "Valor de mercado", tituloYx: 33,
  tituloX: "Media de minutos"
});

dibujarPanel({
  id: "clip-log",
  left: 692, right: 1134, top: TOP, bottom: BOTTOM,
  y: d3.scaleLog().domain([Math.pow(10, 4.1714), Math.pow(10, 8.352)]).range([BOTTOM, TOP]),
  ticksY: ticksYLog, etiquetasY: etiquetasYLog, ticksYMenores: ticksYLogMenores,
  campo: "log",
  titulo: "log(Valor de mercado)", tituloYx: 606,
  tituloX: "Media de minutos"
});
</script>
</body>
</html>
